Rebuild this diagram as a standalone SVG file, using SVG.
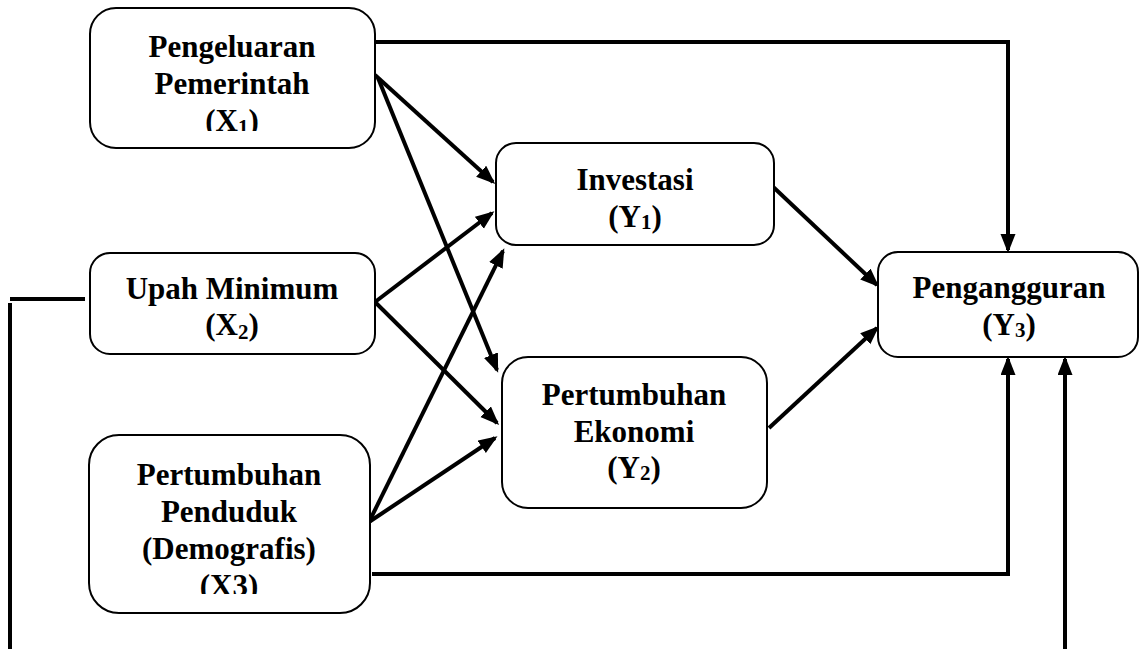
<svg xmlns="http://www.w3.org/2000/svg" width="1140" height="649" viewBox="0 0 1140 649">
<style>
.box{fill:#fff;stroke:#000;stroke-width:2}
.t{font-family:"Liberation Serif","Times New Roman",serif;font-weight:bold;font-size:31px;fill:#000;text-anchor:middle}
.sub{font-size:21px}
.c{fill:none;stroke:#000;stroke-width:4;stroke-linecap:butt;stroke-linejoin:miter}
.a{marker-end:url(#ah)}
</style>
<defs>
<marker id="ah" markerUnits="userSpaceOnUse" markerWidth="20" markerHeight="16" refX="16" refY="7.5" orient="auto">
<path d="M0,0 L19,7.5 L0,15 z" fill="#000"/>
</marker>
<clipPath id="clipX1"><rect x="90" y="8" width="285" height="123"/></clipPath>
<clipPath id="clipX3"><rect x="89" y="435" width="281" height="159"/></clipPath>
</defs>
<rect width="1140" height="649" fill="#fff"/>
<g id="connectors">
<path class="c a" d="M375,42 H1008 V250"/>
<path class="c a" d="M375,75 L493,182"/>
<path class="c a" d="M378,78 L497,370"/>
<path class="c a" d="M375,302 L492,213"/>
<path class="c a" d="M375,302 L497,423"/>
<path class="c a" d="M369,522 L503,251"/>
<path class="c a" d="M369,522 L495,438"/>
<path class="c a" d="M769,183 L877,285"/>
<path class="c a" d="M769,428 L877,328"/>
<path class="c a" d="M372,574 H1008 V359"/>
<path class="c a" d="M1065,649 V359"/>
<path class="c" d="M10,299 H85"/>
<path class="c" d="M10,303 V649"/>
</g>
<g id="X1">
<rect class="box" x="90" y="8" width="285" height="140" rx="26"/>
<g clip-path="url(#clipX1)">
<text class="t" x="232" y="57">Pengeluaran</text>
<text class="t" x="232" y="94">Pemerintah</text>
<text class="t" x="232" y="131">(X<tspan class="sub" dy="3">1</tspan><tspan dy="-3">)</tspan></text>
</g>
</g>
<g id="X2">
<rect class="box" x="90" y="253" width="285" height="101" rx="20"/>
<text class="t" x="232" y="299">Upah Minimum</text>
<text class="t" x="232" y="335">(X<tspan class="sub" dy="4">2</tspan><tspan dy="-4">)</tspan></text>
</g>
<g id="X3">
<rect class="box" x="89" y="435" width="281" height="178" rx="30"/>
<g clip-path="url(#clipX3)">
<text class="t" x="229" y="485">Pertumbuhan</text>
<text class="t" x="229" y="522">Penduduk</text>
<text class="t" x="229" y="559">(Demografis)</text>
<text class="t" x="229" y="596">(X3)</text>
</g>
</g>
<g id="Y1">
<rect class="box" x="496" y="143" width="278" height="102" rx="20"/>
<text class="t" x="635" y="190">Investasi</text>
<text class="t" x="635" y="227">(Y<tspan class="sub" dy="2">1</tspan><tspan dy="-2">)</tspan></text>
</g>
<g id="Y2">
<rect class="box" x="502" y="357" width="265" height="151" rx="26"/>
<text class="t" x="634" y="405">Pertumbuhan</text>
<text class="t" x="634" y="442">Ekonomi</text>
<text class="t" x="634" y="478">(Y<tspan class="sub" dy="2">2</tspan><tspan dy="-2">)</tspan></text>
</g>
<g id="Y3">
<rect class="box" x="878" y="252" width="260" height="105" rx="20"/>
<text class="t" x="1009" y="298">Pengangguran</text>
<text class="t" x="1009" y="335">(Y<tspan class="sub" dy="2">3</tspan><tspan dy="-2">)</tspan></text>
</g>
</svg>
